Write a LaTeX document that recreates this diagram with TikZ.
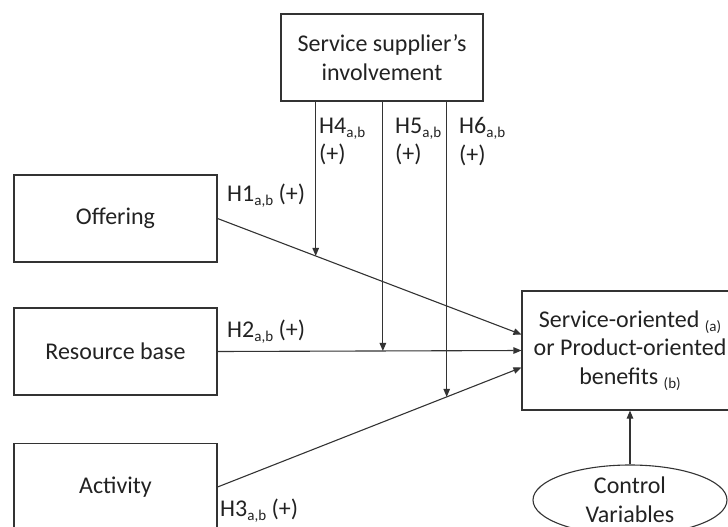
\documentclass[tikz,border=0pt]{standalone}
\usepackage{fontspec}
\setmainfont{Carlito}
\usetikzlibrary{arrows.meta,shapes.geometric}
\definecolor{ln}{HTML}{333333}
\definecolor{tx}{HTML}{222222}
% lowered, smaller index text such as a,b or (a)
\newcommand\lowsub[1]{\raisebox{-4pt}{\fontsize{15}{15}\selectfont #1}}

\begin{document}
\begin{tikzpicture}[x=1pt,y=-1pt,
  txt/.style={font=\fontsize{24}{28.5}\selectfont, text=tx},
  box/.style={txt, draw=ln, line width=1.1pt, rectangle, inner sep=0pt, align=center},
  lab/.style={txt, inner sep=0pt, anchor=base west},
  arr/.style={draw=ln, line width=1.1pt, -{Triangle[length=8pt,width=6.5pt]}}]

\clip (0,0) rectangle (728,527);

% construct boxes
\node[box, minimum width=202, minimum height=87] (sup) at (382,57.5) {Service supplier’s\\involvement};
\node[box, minimum width=203, minimum height=87] (off) at (115.5,218.5) {Offering};
\node[box, minimum width=203, minimum height=87] (res) at (115.5,351.5) {Resource base};
\node[box, minimum width=203, minimum height=87] (act) at (115.5,487) {Activity};
\node[box, minimum width=216, minimum height=119] (ben) at (630,350.5)
  {Service-oriented \lowsub{(a)}\\or Product-oriented\\benefits \lowsub{(b)}};
\node[txt, draw=ln, line width=1.1pt, ellipse, inner sep=0pt, align=center,
  minimum width=194, minimum height=70] (ctl) at (630,500) {Control\\Variables};

% direct effects
\draw[arr] (off.east) -- coordinate[pos=0.323] (m1) ([yshift=16pt]ben.west);
\draw[arr] (res.east) -- coordinate[pos=0.544] (m2) (ben.west);
\draw[arr] (act.east) -- coordinate[pos=0.754] (m3) ([yshift=-17pt]ben.west);

% moderating effects of the supplier's involvement
\draw[arr] (sup.south -| m1) -- (m1);
\draw[arr] (sup.south -| m2) -- (m2);
\draw[arr] (sup.south -| m3) -- (m3);

% control variables
\draw[arr] (ctl.north) -- (ben.south);

% hypothesis labels
\node[lab] (h1) at (227,201) {H1\lowsub{a,b} (+)};
\node[lab] (h2) at (227,337) {H2\lowsub{a,b} (+)};
\node[lab] (h3) at (220,516) {H3\lowsub{a,b} (+)};
\node[lab, anchor=north west, align=left] (h4) at (319,117.5) {H4\lowsub{a,b}\\(+)};
\node[lab, anchor=north west, align=left] (h5) at (395,117.5) {H5\lowsub{a,b}\\(+)};
\node[lab, anchor=north west, align=left] (h6) at (459,117.5) {H6\lowsub{a,b}\\(+)};
\end{tikzpicture}
\end{document}
